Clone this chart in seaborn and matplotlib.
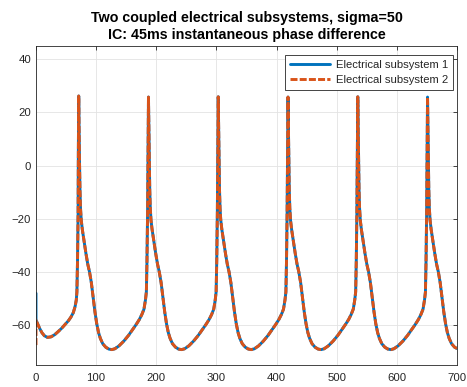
import matplotlib
matplotlib.use("Agg")
import matplotlib.pyplot as plt
import numpy as np
import pandas as pd
import seaborn as sns

# ---------------- data ----------------
title_text = "Two coupled electrical subsystems, sigma=50\nIC: 45ms instantaneous phase difference"
series_names = ["Electrical subsystem 1", "Electrical subsystem 2"]
x_ticks = [0, 100, 200, 300, 400, 500, 600, 700]
y_ticks = [-60, -40, -20, 0, 20, 40]

# initial values at t = 0 for each subsystem (mV)
v1_initial = -48
v2_initial = -67.5

# shared trajectory (both subsystems overlap after t = 0)
time_ms = [
    0, 1, 3, 6, 10, 14, 19, 25, 31, 37, 43, 49, 54, 58, 62, 65, 67, 68, 69, 70, 70.4, 71,
    71.6, 72.3, 73.1, 74, 75.2, 77, 80, 83, 86, 89, 92, 95, 98, 101, 104, 107, 111, 116, 121, 126,
    131, 138, 146, 154, 161, 167, 172, 176, 179.5, 182, 183.5, 184.5, 185.5, 186.2, 187,
    187.6, 188.3, 189.1, 190, 191.2, 193, 196, 199, 202, 205, 208, 211, 214, 217, 220, 223, 227, 232, 237, 242,
    247, 254, 262, 270, 277, 283, 288, 292, 295.5, 298, 299.5, 300.5, 301.5, 302.2, 303,
    303.6, 304.3, 305.1, 306, 307.2, 309, 312, 315, 318, 321, 324, 327, 330, 333, 336, 339, 343, 348, 353, 358,
    363, 370, 378, 386, 393, 399, 404, 408, 411.5, 414, 415.5, 416.5, 417.5, 418.2, 419,
    419.6, 420.3, 421.1, 422, 423.2, 425, 428, 431, 434, 437, 440, 443, 446, 449, 452, 455, 459, 464, 469, 474,
    479, 486, 494, 502, 509, 515, 520, 524, 527.5, 530, 531.5, 532.5, 533.5, 534.2, 535,
    535.6, 536.3, 537.1, 538, 539.2, 541, 544, 547, 550, 553, 556, 559, 562, 565, 568, 571, 575, 580, 585, 590,
    595, 602, 610, 618, 625, 631, 636, 640, 643.5, 646, 647.5, 648.5, 649.5, 650.2, 651,
    651.6, 652.3, 653.1, 654, 655.2, 657, 660, 663, 666, 669, 672, 675, 678, 681, 684, 687, 691, 696, 700,
]
v_shared = [
    -58, -58.6, -59.6, -61.2, -62.9, -64, -64.6, -64.4, -63.6, -62.4, -61.1, -59.6, -58.3, -57, -55.3, -53, -50.5, -47.5, -36, -18, 5, 26.2,
    15, 2, -9, -16, -20.5, -24, -28.5, -33, -37, -40, -44, -49.5, -55, -59.5, -62.8, -65, -67, -68.3, -69, -69.2,
    -68.9, -67.8, -66, -63.8, -61.5, -59.6, -57.8, -56, -54, -50.5, -47.5, -36, -18, 5, 25.8,
    15, 2, -9, -16, -20.5, -24, -28.5, -33, -37, -40, -44, -49.5, -55, -59.5, -62.8, -65, -67, -68.3, -69, -69.2,
    -68.9, -67.8, -66, -63.8, -61.5, -59.6, -57.8, -56, -54, -50.5, -47.5, -36, -18, 5, 25.9,
    15, 2, -9, -16, -20.5, -24, -28.5, -33, -37, -40, -44, -49.5, -55, -59.5, -62.8, -65, -67, -68.3, -69, -69.2,
    -68.9, -67.8, -66, -63.8, -61.5, -59.6, -57.8, -56, -54, -50.5, -47.5, -36, -18, 5, 25.8,
    15, 2, -9, -16, -20.5, -24, -28.5, -33, -37, -40, -44, -49.5, -55, -59.5, -62.8, -65, -67, -68.3, -69, -69.2,
    -68.9, -67.8, -66, -63.8, -61.5, -59.6, -57.8, -56, -54, -50.5, -47.5, -36, -18, 5, 25.9,
    15, 2, -9, -16, -20.5, -24, -28.5, -33, -37, -40, -44, -49.5, -55, -59.5, -62.8, -65, -67, -68.3, -69, -69.2,
    -68.9, -67.8, -66, -63.8, -61.5, -59.6, -57.8, -56, -54, -50.5, -47.5, -36, -18, 5, 25.8,
    15, 2, -9, -16, -20.5, -24, -28.5, -33, -37, -40, -44, -49.5, -55, -59.5, -62.8, -65, -67, -68.3, -68.8,
]

# ---------------- build data frames ----------------
df1 = pd.DataFrame({"t": [0] + time_ms, "v": [v1_initial] + v_shared})
df2 = pd.DataFrame({"t": [0] + time_ms, "v": [v2_initial] + v_shared})

# ---------------- style ----------------
sns.set_theme(style="white")
plt.rcParams['font.family'] = ['Liberation Sans', 'DejaVu Sans']

fig = plt.figure(figsize=(4.67, 3.87), dpi=100)
ax = fig.add_axes([0.0771, 0.0568, 0.9015, 0.8243])

blue = "#0072BD"
orange = "#D95319"

sns.lineplot(data=df1, x="t", y="v", ax=ax, color=blue, linewidth=2.1,
             estimator=None, sort=False, label=series_names[0])
sns.lineplot(data=df2, x="t", y="v", ax=ax, color=orange, linewidth=2.1,
             linestyle=(0, (2.4, 0.75)), estimator=None, sort=False,
             label=series_names[1])

ax.set_xlim(0, 700)
ax.set_ylim(-75, 45)
ax.set_xticks(x_ticks)
ax.set_yticks(y_ticks)
ax.set_xlabel("")
ax.set_ylabel("")

ax.grid(True, color="#e3e3e3", linewidth=0.6)
ax.set_axisbelow(True)
for s in ax.spines.values():
    s.set_color("#262626")
    s.set_linewidth(0.6)
ax.tick_params(axis="both", direction="in", length=3, width=0.6, color="#262626",
               labelsize=8.2, labelcolor="#262626", top=True, right=True)
ax.tick_params(axis="x", pad=6)
ax.tick_params(axis="y", pad=3.5)

ax.set_title(title_text, fontsize=10.3, fontweight="bold", color="black", pad=5,
             linespacing=1.3)

leg = ax.legend(loc="upper right", bbox_to_anchor=(0.9905, 0.9718), borderaxespad=0,
                fontsize=8.1, frameon=True, fancybox=False, framealpha=1,
                edgecolor="#262626", handlelength=3.6, handletextpad=0.5,
                labelspacing=0.45, borderpad=0.45)
leg.get_frame().set_linewidth(0.6)

fig.savefig("out.png", dpi=100)
